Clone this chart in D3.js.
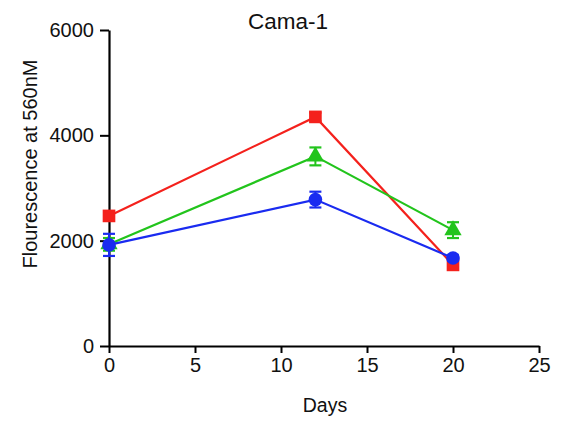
<!DOCTYPE html>
<html>
<head>
<meta charset="utf-8">
<script src="https://cdn.jsdelivr.net/npm/d3@7"></script>
<style>
  html, body { margin: 0; padding: 0; background: #fff; }
  svg { display: block; font-family: "Liberation Sans", Arial, sans-serif; }
</style>
</head>
<body>
<svg id="chart" width="563" height="422"></svg>
<script>
// Sampling days
const days = [0, 12, 20];

// Series means and standard deviations (fluorescence at 560nM)
const redMean = [2470, 4350, 1540];
const redErr = [60, 80, 40];
const greenMean = [1930, 3600, 2200];
const greenErr = [120, 170, 150];
const blueMean = [1920, 2780, 1670];
const blueErr = [210, 150, 50];

const xTicks = [0, 5, 10, 15, 20, 25];
const yTicks = [0, 2000, 4000, 6000];

const series = [
  { name: "red", color: "#f4211c", shape: "square", mean: redMean, err: redErr },
  { name: "green", color: "#22c41c", shape: "triangle", mean: greenMean, err: greenErr },
  { name: "blue", color: "#1a2bf0", shape: "circle", mean: blueMean, err: blueErr }
];

const svg = d3.select("#chart");
const x = d3.scaleLinear().domain([0, 25]).range([109, 539]);
const y = d3.scaleLinear().domain([0, 6000]).range([346, 30]);

// Axes
const xAxis = svg.append("g")
  .attr("transform", `translate(0,${y(0)})`)
  .call(d3.axisBottom(x).tickValues(xTicks).tickFormat(d3.format("d"))
    .tickSize(7).tickPadding(5).tickSizeOuter(0));
const yAxis = svg.append("g")
  .attr("transform", `translate(${x(0)},0)`)
  .call(d3.axisLeft(y).tickValues(yTicks).tickFormat(d3.format("d"))
    .tickSize(9).tickPadding(6).tickSizeOuter(0));

[xAxis, yAxis].forEach(g => {
  g.attr("font-size", 20).attr("font-family", "'Liberation Sans', Arial, sans-serif");
  g.select(".domain").attr("stroke", "#000").attr("stroke-width", 2.2);
  g.selectAll(".tick line").attr("stroke", "#000").attr("stroke-width", 2);
  g.selectAll(".tick text").attr("fill", "#111");
});

// Lines, error bars and markers
const line = d3.line().x((d, i) => x(days[i])).y(d => y(d));

series.forEach(s => {
  const g = svg.append("g");
  g.append("path")
    .datum(s.mean)
    .attr("d", line)
    .attr("fill", "none")
    .attr("stroke", s.color)
    .attr("stroke-width", 2.2);

  const eb = g.selectAll(".eb").data(s.mean).enter().append("g");
  eb.append("line")
    .attr("x1", (d, i) => x(days[i])).attr("x2", (d, i) => x(days[i]))
    .attr("y1", (d, i) => y(d - s.err[i])).attr("y2", (d, i) => y(d + s.err[i]))
    .attr("stroke", s.color).attr("stroke-width", 2);
  [-1, 1].forEach(sign => {
    eb.append("line")
      .attr("x1", (d, i) => x(days[i]) - 6).attr("x2", (d, i) => x(days[i]) + 6)
      .attr("y1", (d, i) => y(d + sign * s.err[i])).attr("y2", (d, i) => y(d + sign * s.err[i]))
      .attr("stroke", s.color).attr("stroke-width", 2.2);
  });

  const sym = s.shape === "square" ? d3.symbolSquare : s.shape === "triangle" ? d3.symbolTriangle : d3.symbolCircle;
  const size = s.shape === "square" ? 160 : s.shape === "triangle" ? 130 : 145;
  g.selectAll(".pt").data(s.mean).enter().append("path")
    .attr("d", d3.symbol().type(sym).size(size))
    .attr("transform", (d, i) => `translate(${x(days[i])},${y(d)})`)
    .attr("fill", s.color);
});

// Titles
svg.append("text")
  .attr("x", 288).attr("y", 29)
  .attr("text-anchor", "middle")
  .style("font-size", "22.5px").attr("fill", "#111")
  .text("Cama-1");

svg.append("text")
  .attr("x", 325).attr("y", 412)
  .attr("text-anchor", "middle")
  .style("font-size", "19.5px").attr("fill", "#111")
  .text("Days");

svg.append("text")
  .attr("transform", "translate(37,164) rotate(-90)")
  .attr("text-anchor", "middle")
  .style("font-size", "20px").attr("fill", "#111")
  .text("Flourescence at 560nM");
</script>
</body>
</html>
